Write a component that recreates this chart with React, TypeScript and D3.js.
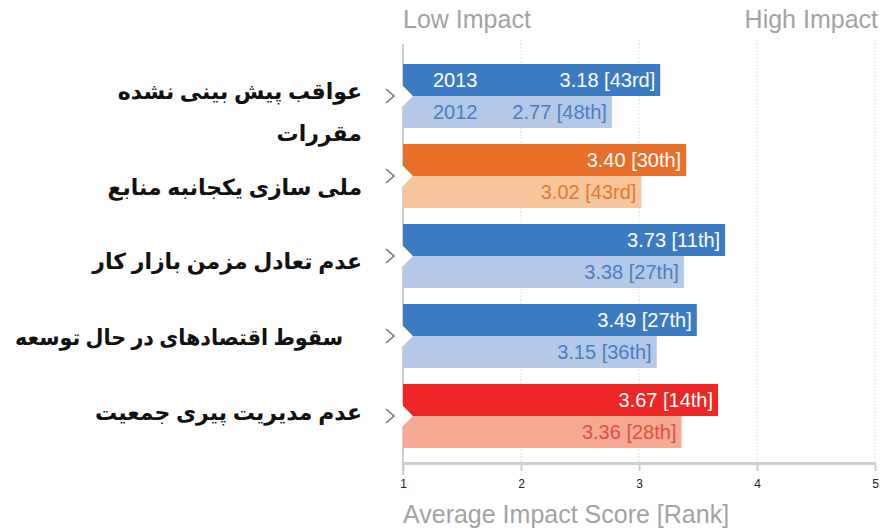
import React, { useEffect, useRef } from 'react';
import * as d3 from 'd3';

const CATEGORIES = [
  ['عواقب پیش بینی نشده', 'مقررات'],
  ['ملی سازی یکجانبه منابع'],
  ['عدم تعادل مزمن بازار کار'],
  ['سقوط اقتصادهای در حال توسعه'],
  ['عدم مدیریت پیری جمعیت'],
];
const SCORE_2013 = [3.18, 3.4, 3.73, 3.49, 3.67];
const RANK_2013 = ['43rd', '30th', '11th', '27th', '14th'];
const SCORE_2012 = [2.77, 3.02, 3.38, 3.15, 3.36];
const RANK_2012 = ['48th', '43rd', '27th', '36th', '28th'];
const TICKS = [1, 2, 3, 4, 5];

// colours per row: [2013 bar, 2012 bar, 2012 text]
const COLORS = [
  ['#3a7cc3', '#b4c8e8', '#4a7fc2'],
  ['#e86f28', '#f6c59b', '#e8782f'],
  ['#3a7cc3', '#b4c8e8', '#4a7fc2'],
  ['#3a7cc3', '#b4c8e8', '#4a7fc2'],
  ['#ec2726', '#f5a993', '#e2503f'],
];
// small nudges of the persian labels
const LABEL_DY = [-4, 12, 6, 2, -3];
const LABEL_DX = [0, 0, 0, -19, 0];

const W = 881;
const H = 531;
const LATIN = '"Liberation Sans", Arial, sans-serif';
const MAX_LABEL = 328;

const App = () => {
  const ref = useRef<SVGSVGElement>(null);

  useEffect(() => {
    const svg = d3.select(ref.current);
    svg.selectAll('*').remove();

    const x = d3.scaleLinear().domain([1, 5]).range([403, 875]);
    const y = d3
      .scaleBand<number>()
      .domain(CATEGORIES.map((_, i) => i))
      .range([56, 456])
      .paddingInner(0.2)
      .paddingOuter(0.1);
    const half = y.bandwidth() / 2;
    const axisY = 463;

    // header labels
    svg.append('text').attr('x', x(1)).attr('y', 28).text('Low Impact')
      .attr('font-family', LATIN).attr('font-size', 25).attr('fill', '#a3a3a3');
    svg.append('text').attr('x', 878).attr('y', 28).attr('text-anchor', 'end').text('High Impact')
      .attr('font-family', LATIN).attr('font-size', 25).attr('fill', '#a3a3a3');

    // dotted grid
    svg.append('g').selectAll('line').data(TICKS.slice(1)).enter().append('line')
      .attr('x1', d => x(d)).attr('x2', d => x(d))
      .attr('y1', 40).attr('y2', axisY)
      .attr('stroke', '#d4d4d4').attr('stroke-width', 1).attr('stroke-dasharray', '1.5,2');

    // left line
    svg.append('line').attr('x1', x(1)).attr('x2', x(1)).attr('y1', 44).attr('y2', 475)
      .attr('stroke', '#d0d0d0').attr('stroke-width', 2);

    // bars
    const rows = svg.append('g').selectAll('g').data(CATEGORIES.map((_, i) => i)).enter().append('g');

    rows.append('rect')
      .attr('x', x(1)).attr('y', i => y(i)!)
      .attr('width', i => x(SCORE_2013[i]) - x(1)).attr('height', half)
      .attr('fill', i => COLORS[i][0]);
    rows.append('rect')
      .attr('x', x(1)).attr('y', i => y(i)! + half)
      .attr('width', i => x(SCORE_2012[i]) - x(1)).attr('height', half)
      .attr('fill', i => COLORS[i][1]);
    // notch
    rows.append('path')
      .attr('d', i => {
        const c = y(i)! + half;
        return `M${x(1) - 1},${c - 11}L${x(1) + 10},${c}L${x(1) - 1},${c + 11}Z`;
      })
      .attr('fill', '#fff');

    rows.append('text')
      .attr('x', i => x(SCORE_2013[i]) - 5).attr('y', i => y(i)! + half / 2)
      .attr('dy', '0.36em').attr('text-anchor', 'end')
      .attr('font-family', LATIN).attr('font-size', 20).attr('fill', '#fff')
      .text(i => `${SCORE_2013[i].toFixed(2)} [${RANK_2013[i]}]`);
    rows.append('text')
      .attr('x', i => x(SCORE_2012[i]) - 5).attr('y', i => y(i)! + half * 1.5)
      .attr('dy', '0.36em').attr('text-anchor', 'end')
      .attr('font-family', LATIN).attr('font-size', 20).attr('fill', i => COLORS[i][2])
      .text(i => `${SCORE_2012[i].toFixed(2)} [${RANK_2012[i]}]`);

    // year tags on first row
    svg.append('text').attr('x', 433).attr('y', y(0)! + half / 2).attr('dy', '0.36em')
      .attr('font-family', LATIN).attr('font-size', 20).attr('fill', '#fff').text('2013');
    svg.append('text').attr('x', 433).attr('y', y(0)! + half * 1.5).attr('dy', '0.36em')
      .attr('font-family', LATIN).attr('font-size', 20).attr('fill', COLORS[0][2]).text('2012');

    // chevrons
    rows.append('path')
      .attr('d', i => {
        const c = y(i)! + half;
        return `M386,${c - 7}L394,${c}L386,${c + 7}`;
      })
      .attr('fill', 'none').attr('stroke', '#7a7a7a').attr('stroke-width', 1.6);

    // persian labels
    rows.each(function (i) {
      const g = d3.select(this);
      CATEGORIES[i].forEach((line, k) => {
        const t = g.append('text')
          .attr('x', 362 + LABEL_DX[i])
          .attr('y', y(i)! + half + LABEL_DY[i] + k * 42)
          .attr('dy', '0.3em')
          .attr('text-anchor', 'end')
          .attr('font-family', '"DejaVu Sans", sans-serif')
          .attr('font-weight', 'bold')
          .attr('font-size', 22)
          .attr('word-spacing', -2)
          .attr('fill', '#111')
          .text(line);
        const node = t.node() as SVGTextElement;
        if (node.getComputedTextLength() > MAX_LABEL) {
          t.attr('textLength', MAX_LABEL).attr('lengthAdjust', 'spacingAndGlyphs');
        }
      });
    });

    // bottom axis
    const axis = svg.append('g').attr('transform', `translate(0,${axisY})`)
      .call(d3.axisBottom(x).tickValues(TICKS).tickFormat(d3.format('d')).tickSize(8).tickPadding(8).tickSizeOuter(0));
    axis.select('.domain').attr('stroke', '#cfcfcf').attr('stroke-width', 3);
    axis.selectAll('.tick line').attr('stroke', '#cfcfcf').attr('stroke-width', 2);
    axis.selectAll('.tick text').attr('font-family', LATIN).attr('font-size', 12).attr('fill', '#222');

    svg.append('text').attr('x', x(1)).attr('y', 523).text('Average Impact Score [Rank]')
      .attr('font-family', LATIN).attr('font-size', 25).attr('fill', '#a3a3a3');
  }, []);

  return <svg ref={ref} width={W} height={H} style={{ display: 'block', position: 'absolute', left: 0, top: 0, background: '#fff' }} />;
};

export default App;
